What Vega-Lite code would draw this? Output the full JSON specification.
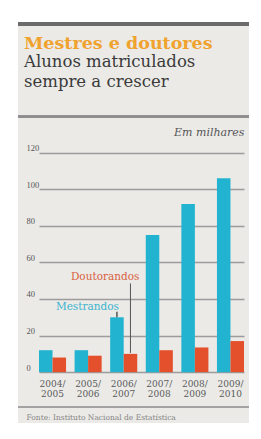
{
  "$schema": "https://vega.github.io/schema/vega-lite/v6.json",
  "autosize": {"type": "fit", "contains": "padding"},
  "width": 261,
  "height": 439,
  "padding": {"left": 16, "right": 10, "top": 22, "bottom": 16},
  "background": "#ffffff",
  "config": {
    "view": {"fill": "#ebeae7", "stroke": null},
    "font": "DejaVu Serif"
  },
  "title": {
    "text": "Mestres e doutores",
    "subtitle": ["Alunos matriculados", "sempre a crescer"],
    "anchor": "start",
    "frame": "group",
    "orient": "top",
    "offset": -68,
    "dx": 6,
    "font": "DejaVu Serif",
    "fontSize": 17.5,
    "fontWeight": "bold",
    "color": "#f0a22e",
    "subtitleFont": "DejaVu Serif",
    "subtitleFontSize": 16.5,
    "subtitleColor": "#3a3a3a",
    "subtitleLineHeight": 20,
    "subtitlePadding": 2
  },
  "data": {
    "values": [
      {"ano": "2004/2005", "serie": "Mestrandos", "valor": 12},
      {"ano": "2004/2005", "serie": "Doutorandos", "valor": 8},
      {"ano": "2005/2006", "serie": "Mestrandos", "valor": 12},
      {"ano": "2005/2006", "serie": "Doutorandos", "valor": 9},
      {"ano": "2006/2007", "serie": "Mestrandos", "valor": 30},
      {"ano": "2006/2007", "serie": "Doutorandos", "valor": 10},
      {"ano": "2007/2008", "serie": "Mestrandos", "valor": 75},
      {"ano": "2007/2008", "serie": "Doutorandos", "valor": 12},
      {"ano": "2008/2009", "serie": "Mestrandos", "valor": 92},
      {"ano": "2008/2009", "serie": "Doutorandos", "valor": 13.5},
      {"ano": "2009/2010", "serie": "Mestrandos", "valor": 106},
      {"ano": "2009/2010", "serie": "Doutorandos", "valor": 17}
    ]
  },
  "layer": [
    {
      "mark": {"type": "rule", "color": "#6b6b6b", "strokeWidth": 3},
      "encoding": {"y": {"datum": 190.3, "type": "quantitative"}}
    },
    {
      "mark": {"type": "rule", "color": "#8e8e8e", "strokeWidth": 2},
      "encoding": {"y": {"datum": 139.6, "type": "quantitative"}}
    },
    {
      "mark": {"type": "rule", "color": "#a3a3a3", "strokeWidth": 1.5},
      "encoding": {"y": {"datum": -19.1, "type": "quantitative"}}
    },
    {
      "mark": {"type": "bar"},
      "encoding": {
        "x": {
          "field": "ano",
          "type": "nominal",
          "sort": null,
          "scale": {"range": [21, 226], "paddingInner": 0.24, "paddingOuter": 0},
          "axis": {
            "orient": "bottom",
            "offset": -51,
            "domain": false,
            "ticks": false,
            "labelAngle": 0,
            "labelPadding": 11,
            "labelFont": "DejaVu Serif",
            "labelFontSize": 9,
            "labelColor": "#5a5a5a",
            "labelLineHeight": 10,
            "labelBaseline": "middle",
            "labelExpr": "[slice(datum.label, 0, 5), slice(datum.label, 5)]",
            "title": "Fonte: Instituto Nacional de Estatística",
            "titleFont": "DejaVu Serif",
            "titleFontSize": 7.5,
            "titleFontWeight": "normal",
            "titleColor": "#858585",
            "titleAnchor": "start",
            "titleAlign": "left",
            "titleBaseline": "alphabetic",
            "titleX": 8,
            "titleY": 47
          }
        },
        "xOffset": {
          "field": "serie",
          "type": "nominal",
          "scale": {"domain": ["Mestrandos", "Doutorandos"], "paddingInner": 0}
        },
        "y": {
          "field": "valor",
          "type": "quantitative",
          "scale": {"domain": [-27.8, 190.9], "nice": false, "zero": false},
          "axis": {
            "values": [0, 20, 40, 60, 80, 100, 120],
            "domain": false,
            "ticks": false,
            "tickSize": 0,
            "grid": true,
            "gridColor": "#9c9c9c",
            "gridWidth": 1.3,
            "labelAlign": "left",
            "labelPadding": -8,
            "labelBaseline": "alphabetic",
            "labelOffset": -2,
            "labelFont": "Liberation Serif",
            "labelFontSize": 8.5,
            "labelColor": "#555555",
            "title": "Em milhares",
            "titleAngle": 0,
            "titleAlign": "right",
            "titleBaseline": "alphabetic",
            "titleX": 226,
            "titleY": 112,
            "titleFont": "DejaVu Serif",
            "titleFontStyle": "italic",
            "titleFontWeight": "normal",
            "titleFontSize": 11,
            "titleColor": "#555555"
          }
        },
        "y2": {"datum": 0},
        "color": {
          "field": "serie",
          "type": "nominal",
          "scale": {"domain": ["Mestrandos", "Doutorandos"], "range": ["#22b3d1", "#e4502c"]},
          "legend": null
        }
      }
    },
    {
      "transform": [{"filter": "datum.ano === '2006/2007' && datum.serie === 'Doutorandos'"}],
      "mark": {"type": "rule", "color": "#555555", "strokeWidth": 1},
      "encoding": {
        "x": {"field": "ano", "type": "nominal"},
        "xOffset": {"field": "serie", "type": "nominal"},
        "y": {"datum": 48.5, "type": "quantitative"},
        "y2": {"datum": 10.5}
      }
    },
    {
      "transform": [{"filter": "datum.ano === '2006/2007' && datum.serie === 'Doutorandos'"}],
      "mark": {"type": "text", "color": "#d9623e", "align": "right", "baseline": "alphabetic", "dx": 9, "fontSize": 10.5, "font": "DejaVu Serif"},
      "encoding": {
        "x": {"field": "ano", "type": "nominal"},
        "xOffset": {"field": "serie", "type": "nominal"},
        "y": {"datum": 50.2, "type": "quantitative"},
        "text": {"field": "serie"}
      }
    },
    {
      "transform": [{"filter": "datum.ano === '2006/2007' && datum.serie === 'Mestrandos'"}],
      "mark": {"type": "rule", "color": "#333333", "strokeWidth": 1.2},
      "encoding": {
        "x": {"field": "ano", "type": "nominal"},
        "xOffset": {"field": "serie", "type": "nominal"},
        "y": {"datum": 33, "type": "quantitative"},
        "y2": {"datum": 30}
      }
    },
    {
      "transform": [{"filter": "datum.ano === '2006/2007' && datum.serie === 'Mestrandos'"}],
      "mark": {"type": "text", "color": "#3db4cf", "align": "right", "baseline": "alphabetic", "dx": 2, "fontSize": 10.5, "font": "DejaVu Serif"},
      "encoding": {
        "x": {"field": "ano", "type": "nominal"},
        "xOffset": {"field": "serie", "type": "nominal"},
        "y": {"datum": 33.8, "type": "quantitative"},
        "text": {"field": "serie"}
      }
    }
  ]
}
